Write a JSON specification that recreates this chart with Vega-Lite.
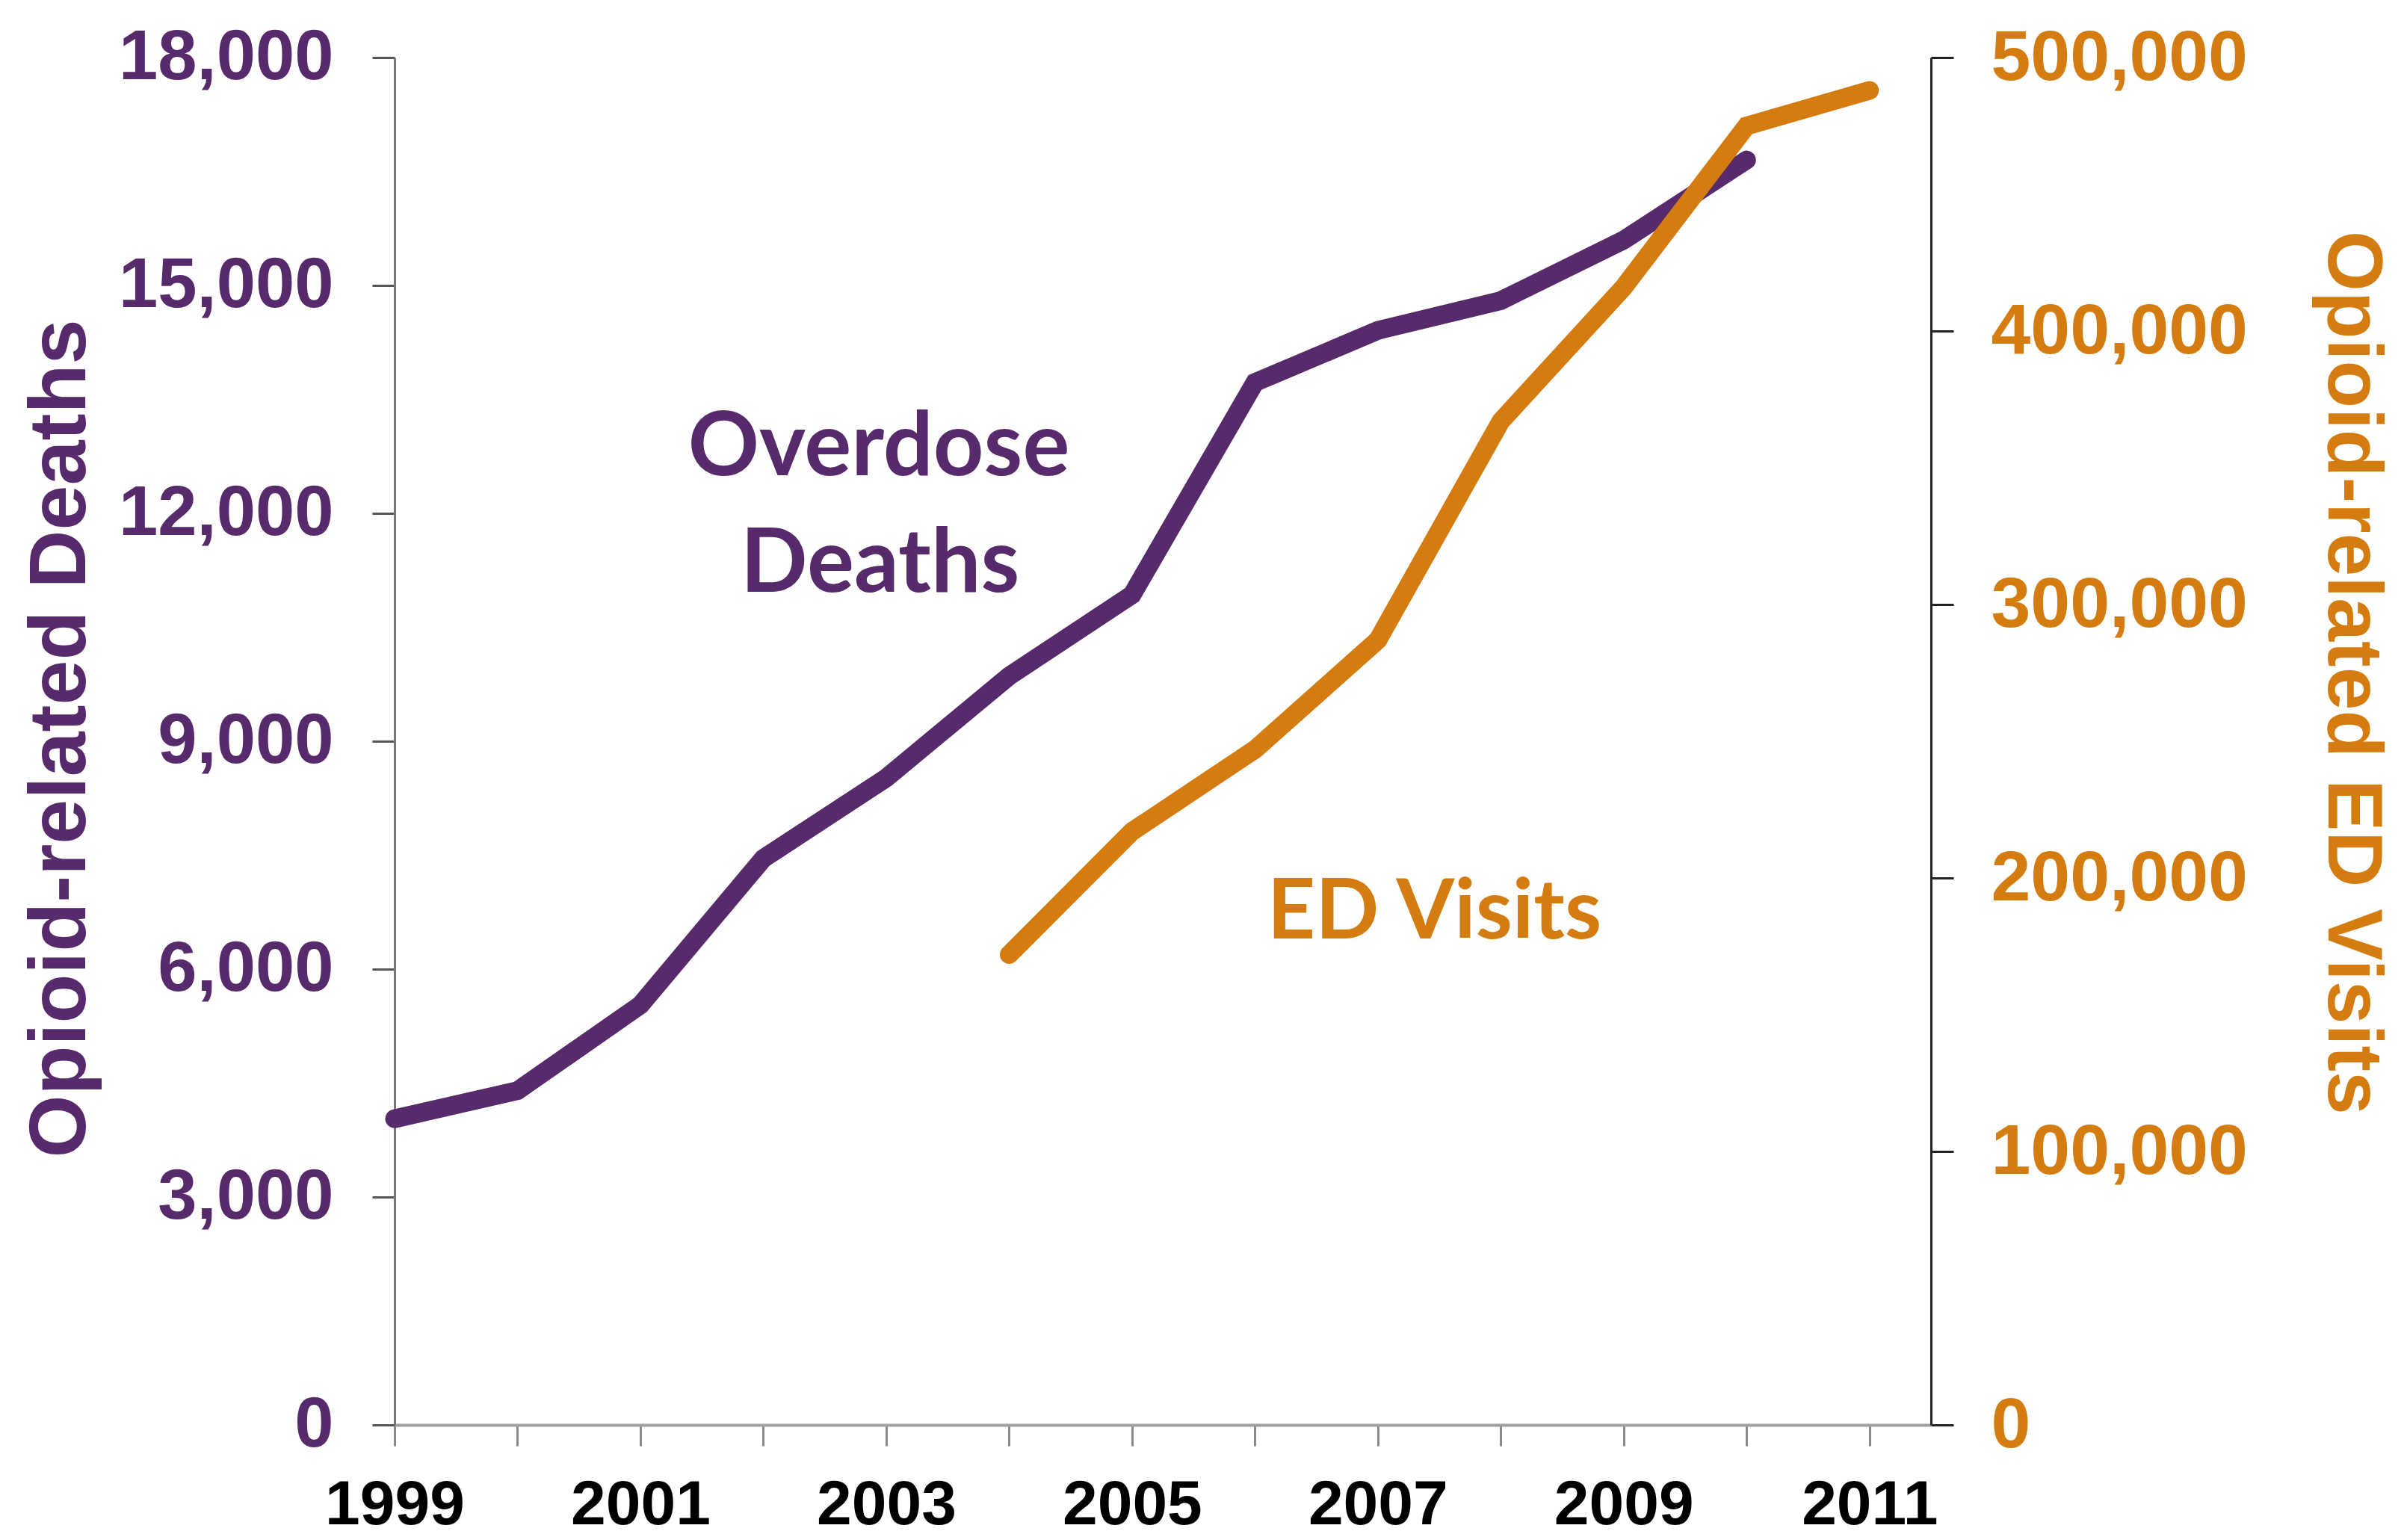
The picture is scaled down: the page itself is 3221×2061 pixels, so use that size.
{
  "$schema": "https://vega.github.io/schema/vega-lite/v6.json",
  "width": 2056,
  "height": 1830,
  "autosize": {"type": "none"},
  "padding": {"left": 528, "top": 77, "right": 637, "bottom": 154},
  "background": "white",
  "config": {"view": {"stroke": null}},
  "encoding": {
    "x": {
      "field": "year", "type": "quantitative",
      "scale": {"domain": [1999, 2011.5], "nice": false, "zero": false},
      "axis": {
        "title": null, "grid": false,
        "values": [1999, 2000, 2001, 2002, 2003, 2004, 2005, 2006, 2007, 2008, 2009, 2010, 2011],
        "labelExpr": "datum.value % 2 == 1 ? format(datum.value, 'd') : ''",
        "labelFlush": false, "labelOverlap": false, "labelLimit": 1000,
        "domainColor": "#a0a0a0", "domainWidth": 4,
        "tickColor": "#8a8a8a", "tickWidth": 3, "tickSize": 28,
        "labelColor": "#000000", "labelFont": "Liberation Sans",
        "labelFontWeight": "bold", "labelFontSize": 84, "labelPadding": 38
      }
    }
  },
  "layer": [
    {
      "encoding": {
        "y": {
          "field": "deaths", "type": "quantitative",
          "scale": {"domain": [0, 18000], "nice": false},
          "axis": {
            "orient": "left", "grid": false,
            "values": [0, 3000, 6000, 9000, 12000, 15000, 18000],
            "format": ",d",
            "domainColor": "#777777", "domainWidth": 3,
            "tickColor": "#555555", "tickWidth": 3, "tickSize": 30,
            "labelColor": "#572a6b", "labelFont": "Liberation Sans",
            "labelFontWeight": "bold", "labelFontSize": 94, "labelPadding": 52,
            "labelFlush": false, "labelOverlap": false, "labelLimit": 1000,
            "title": "Opioid-related Deaths",
            "titleColor": "#572a6b", "titleFont": "Liberation Sans", "titleFontWeight": "bold", "titleFontSize": 108,
            "titleAngle": -90, "titleAlign": "center", "titleBaseline": "middle",
            "titleX": -447, "titleY": 911
          }
        }
      },
      "layer": [
        {
          "data": {"values": [
            {"year": 1999, "deaths": 4030},
            {"year": 2000, "deaths": 4400},
            {"year": 2001, "deaths": 5528},
            {"year": 2002, "deaths": 7456},
            {"year": 2003, "deaths": 8517},
            {"year": 2004, "deaths": 9857},
            {"year": 2005, "deaths": 10928},
            {"year": 2006, "deaths": 13723},
            {"year": 2007, "deaths": 14408},
            {"year": 2008, "deaths": 14800},
            {"year": 2009, "deaths": 15597},
            {"year": 2010, "deaths": 16651}
          ]},
          "mark": {"type": "line", "color": "#572a6b", "strokeWidth": 25, "strokeCap": "round", "strokeJoin": "miter"}
        },
        {
          "data": {"values": [
            {"year": 2002.94, "deaths": 12846, "label": "Overdose"},
            {"year": 2002.95, "deaths": 11311, "label": "Deaths"}
          ]},
          "mark": {"type": "text", "color": "#572a6b", "font": "Lato", "fontWeight": "bold", "fontSize": 118, "align": "center", "baseline": "middle"},
          "encoding": {"text": {"field": "label"}}
        }
      ]
    },
    {
      "encoding": {
        "y": {
          "field": "visits", "type": "quantitative",
          "scale": {"domain": [0, 500000], "nice": false},
          "axis": {
            "orient": "right", "grid": false,
            "values": [0, 100000, 200000, 300000, 400000, 500000],
            "format": ",d",
            "domainColor": "#222222", "domainWidth": 3,
            "tickColor": "#222222", "tickWidth": 3, "tickSize": 30,
            "labelColor": "#d57c10", "labelFont": "Liberation Sans",
            "labelFontWeight": "bold", "labelFontSize": 95, "labelPadding": 50,
            "labelFlush": false, "labelOverlap": false, "labelLimit": 1000,
            "title": "Opioid-related ED Visits",
            "titleColor": "#d57c10", "titleFont": "Liberation Sans", "titleFontWeight": "bold", "titleFontSize": 104,
            "titleAngle": 90, "titleAlign": "center", "titleBaseline": "middle",
            "titleX": 562, "titleY": 823
          }
        }
      },
      "layer": [
        {
          "data": {"values": [
            {"year": 2004, "visits": 172000},
            {"year": 2005, "visits": 217000},
            {"year": 2006, "visits": 247000},
            {"year": 2007, "visits": 287000},
            {"year": 2008, "visits": 367000},
            {"year": 2009, "visits": 416000},
            {"year": 2010, "visits": 475000},
            {"year": 2011, "visits": 488000}
          ]},
          "mark": {"type": "line", "color": "#d57c10", "strokeWidth": 25, "strokeCap": "round", "strokeJoin": "miter"}
        },
        {
          "data": {"values": [
            {"year": 2007.46, "visits": 187200, "label": "ED Visits"}
          ]},
          "mark": {"type": "text", "color": "#d57c10", "font": "Lato", "fontWeight": "bold", "fontSize": 112, "align": "center", "baseline": "middle"},
          "encoding": {"text": {"field": "label"}}
        }
      ]
    }
  ],
  "resolve": {"scale": {"y": "independent"}}
}
